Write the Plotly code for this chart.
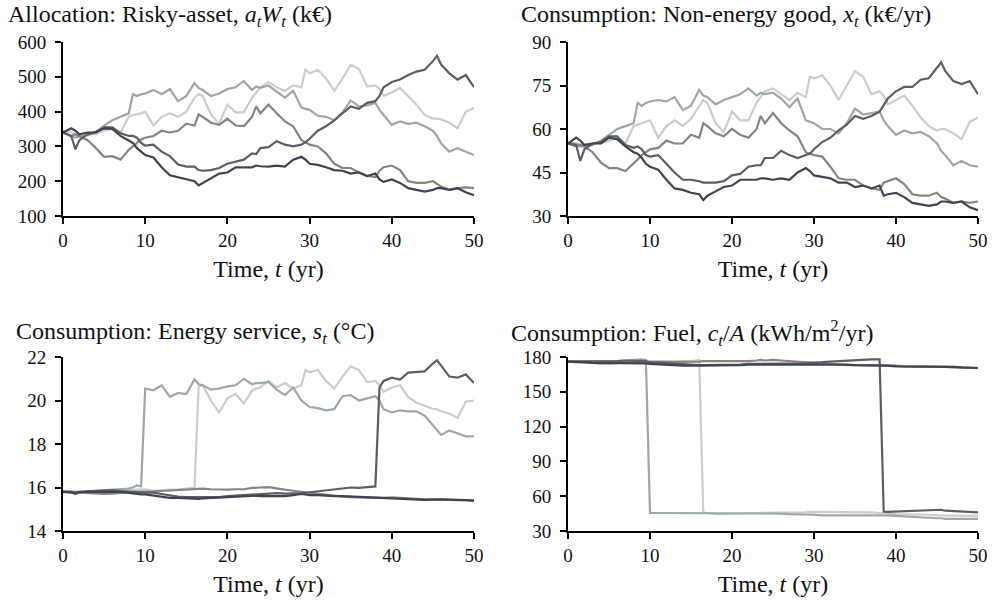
import plotly.graph_objects as go

# Time grid (years)
T = [0, 1, 1.5, 2, 3, 4, 5, 6, 7, 8,
     8.5, 9, 9.5, 10, 11, 12, 13, 14, 15, 16,
     16.5, 17, 18, 19, 20, 21, 22, 23, 23.5, 24,
     25, 26, 27, 28, 29, 29.5, 30, 31, 32, 33,
     34, 35, 36, 37, 38, 38.5, 39, 40, 41, 42,
     43, 44, 45, 45.5, 46, 47, 48, 49, 50]

# ---- Allocation: risky asset a_t W_t (k€) ----
W_navy = [340, 352, 345, 335, 340, 340, 352, 350, 330, 318,
          310, 295, 285, 275, 268, 240, 217, 212, 205, 200,
          188, 195, 210, 222, 225, 240, 240, 240, 245, 243,
          242, 245, 242, 262, 270, 262, 250, 247, 240, 232,
          230, 222, 225, 215, 222, 205, 198, 205, 195, 180,
          175, 170, 175, 180, 180, 175, 180, 168, 160]
W_dark = [340, 330, 292, 318, 335, 342, 355, 355, 338, 330,
          330, 325, 310, 302, 305, 285, 272, 248, 242, 242,
          232, 230, 232, 238, 250, 255, 262, 280, 278, 295,
          298, 315, 305, 300, 305, 312, 322, 345, 358, 375,
          395, 415, 408, 425, 430, 445, 470, 485, 492, 505,
          515, 520, 545, 560, 535, 510, 492, 505, 470]
W_brown = [340, 330, 335, 330, 318, 295, 270, 272, 262, 290,
           300, 312, 320, 325, 330, 345, 340, 345, 365, 360,
           392, 385, 368, 362, 380, 360, 358, 385, 415, 395,
           420, 395, 372, 358, 318, 312, 305, 300, 280, 250,
           238, 238, 225, 215, 212, 230, 240, 245, 232, 200,
           195, 195, 200, 192, 185, 175, 180, 182, 180]
W_blue = [340, 330, 325, 328, 332, 340, 360, 375, 385, 395,
          450, 445, 450, 452, 462, 450, 465, 430, 445, 482,
          468, 462, 445, 452, 465, 470, 488, 462, 472, 468,
          475, 458, 440, 460, 412, 408, 405, 388, 385, 375,
          398, 432, 415, 418, 425, 405, 390, 362, 372, 365,
          368, 358, 345, 330, 308, 285, 295, 285, 275]
W_light = [345, 340, 335, 330, 335, 335, 345, 350, 340, 385,
           390, 392, 395, 400, 360, 385, 395, 385, 400, 440,
           450, 445, 392, 365, 420, 398, 398, 440, 455, 470,
           485, 470, 460, 475, 470, 520, 510, 520, 495, 460,
           495, 535, 522, 472, 475, 465, 445, 455, 468, 445,
           420, 390, 380, 380, 378, 368, 352, 400, 410]

# ---- Consumption: non-energy good x_t (k€/yr) ----
X_navy = [55, 57, 56, 54.5, 55, 55, 57, 56.5, 54, 52,
          51.5, 50, 48, 47, 46, 42.5, 39.5, 39, 38, 37.5,
          35.5, 37, 38.5, 40, 40.5, 42.5, 42.5, 42.5, 43, 43,
          42.5, 43, 42.5, 45, 46.5, 45.5, 44, 43.5, 43, 41.5,
          41.5, 40, 40.5, 39.5, 40.5, 37, 37.5, 38, 36.5, 34.5,
          34, 33.5, 34, 35, 35, 34.5, 35, 33, 32]
X_dark = [55, 54.5, 49, 53, 55, 55.5, 57.5, 57.5, 54.5, 53.5,
          54, 53, 51, 50.5, 51, 48, 45, 42.5, 42.5, 42,
          41.5, 41.5, 41.5, 42, 44, 44.5, 47, 47.5, 47.5, 50,
          50, 52.5, 51, 50, 51, 51.5, 53, 55.5, 57, 59.5,
          61.5, 64.5, 63.5, 64.5, 66, 68.5, 70.5, 73, 74.5, 74.5,
          77, 77.5, 81, 83, 80, 76.5, 75.5, 76.5, 72]
X_brown = [55, 54, 54.5, 54, 52, 48.5, 46.5, 46.5, 45.5, 48,
           49.5, 51, 52, 53, 53.5, 56, 55, 55, 58, 57,
           62, 61, 58.5, 57.5, 60, 58, 57, 60, 64.5, 62,
           65.5, 62, 59.5, 57.5, 52, 51.5, 51, 50.5, 47, 43,
           42.5, 42.5, 40.5, 39.5, 39, 41.5, 42, 43, 41, 37.5,
           37, 37, 38, 36.5, 36, 34.5, 35, 34.5, 35]
X_blue = [55, 55, 54, 54, 54.5, 56, 58, 60, 61, 62,
          69, 68, 69, 69.5, 70, 69.5, 71, 66.5, 68, 73.5,
          71.5, 71, 68.5, 70, 71, 72, 74, 71.5, 72.5, 72,
          72.5, 70.5, 67.5, 70.5, 63, 62.5, 62, 60, 60, 58.5,
          62, 67, 65, 65.5, 66, 63, 61, 58, 59.5, 58.5,
          59, 57.5, 55, 52.5, 51, 47.5, 49, 47.5, 47]
X_light = [55.5, 55, 54.5, 54.5, 55, 55, 56, 57, 55, 61,
           61.5, 62, 62.5, 63, 57, 61, 63, 61, 63.5, 68,
           70, 69, 62, 59, 66, 63, 63, 69, 71, 73,
           74, 72, 70, 72.5, 71, 78, 77.5, 78.5, 75, 70,
           75, 80, 78, 72, 73, 71.5, 68.5, 70, 71.5, 68,
           64, 61, 59.5, 60, 60, 58.5, 56.5, 62.5, 64]

# ---- Consumption: energy service s_t (°C) ----
S_navy = [15.8, 15.75, 15.75, 15.8, 15.8, 15.8, 15.8, 15.78, 15.8, 15.75,
          15.72, 15.7, 15.68, 15.68, 15.62, 15.55, 15.52, 15.52, 15.5, 15.5,
          15.48, 15.5, 15.52, 15.55, 15.55, 15.58, 15.6, 15.6, 15.62, 15.6,
          15.6, 15.62, 15.6, 15.65, 15.7, 15.68, 15.65, 15.65, 15.62, 15.6,
          15.6, 15.58, 15.58, 15.55, 15.55, 15.52, 15.5, 15.5, 15.48, 15.45,
          15.44, 15.43, 15.44, 15.45, 15.45, 15.44, 15.44, 15.42, 15.4]
S_dark = [15.8, 15.8, 15.7, 15.78, 15.82, 15.84, 15.88, 15.88, 15.84, 15.82,
          15.82, 15.82, 15.78, 15.76, 15.76, 15.7, 15.64, 15.58, 15.56, 15.56,
          15.55, 15.55, 15.55, 15.56, 15.6, 15.62, 15.64, 15.66, 15.66, 15.68,
          15.7, 15.74, 15.72, 15.72, 15.74, 15.76, 15.78, 15.82, 15.86, 15.9,
          15.95, 16.0, 15.98, 16.02, 16.05, 20.6, 20.9, 21.05, 20.96, 21.28,
          21.3, 21.34, 21.7, 21.85, 21.6, 21.1, 21.05, 21.2, 20.8]
S_brown = [15.8, 15.78, 15.76, 15.75, 15.72, 15.7, 15.7, 15.72, 15.76, 15.8,
           15.8, 15.8, 15.8, 15.8, 15.82, 15.84, 15.86, 15.88, 15.9, 15.92,
           15.95, 15.95, 15.92, 15.9, 15.9, 15.92, 15.92, 15.98, 16.0, 16.0,
           16.02, 15.95, 15.9, 15.85, 15.8, 15.78, 15.75, 15.7, 15.65, 15.62,
           15.58, 15.56, 15.55, 15.52, 15.5, 15.5, 15.52, 15.55, 15.52, 15.5,
           15.46, 15.45, 15.45, 15.44, 15.44, 15.44, 15.42, 15.42, 15.4]
S_blue = [15.8, 15.78, 15.8, 15.8, 15.82, 15.84, 15.86, 15.88, 15.9, 15.95,
          16.0, 16.1, 16.05, 20.55, 20.47, 20.7, 20.17, 20.35, 20.3, 20.98,
          20.75, 20.7, 20.5, 20.55, 20.65, 20.7, 21.0, 20.75, 20.8, 20.8,
          20.85, 20.5, 20.25, 20.6, 20.0, 19.85, 19.7, 19.65, 19.55, 19.6,
          20.2, 20.25, 20.0, 20.1, 20.2, 20.0, 19.6, 19.45, 19.55, 19.5,
          19.5, 19.3, 18.85, 18.6, 18.42, 18.62, 18.5, 18.35, 18.35]
S_light = [15.85, 15.85, 15.82, 15.8, 15.78, 15.78, 15.78, 15.8, 15.82, 15.85,
           15.88, 15.9, 15.92, 15.92, 15.85, 15.88, 15.9, 15.9, 15.95, 16.0,
           20.65, 20.7, 20.0, 19.45, 20.1, 20.3, 19.86, 20.45, 20.55, 20.6,
           20.9, 20.6, 20.8, 20.55, 20.7, 21.4, 21.3, 21.4, 20.9, 20.55,
           21.1, 21.57, 21.4, 20.85, 20.9, 20.7, 20.4, 20.6, 20.7, 20.15,
           19.9, 19.75, 19.62, 19.6, 19.5, 19.4, 19.2, 19.95, 20.0]

# ---- Consumption: fuel c_t/A (kWh/m²/yr) ----
C_navy = [176, 176, 176, 175.5, 175, 175, 175, 175, 175, 175,
          175, 175, 174.5, 174, 173.5, 173, 172.5, 172.5, 172.5, 172.5,
          172.5, 172.5, 173, 173, 173, 173, 173.5, 173.5, 173.5, 173.5,
          173.5, 173.5, 173.5, 173.5, 174, 174, 174, 174, 173.5, 173.5,
          173.5, 173, 173, 173, 172.5, 172.5, 172.5, 172, 172, 172,
          171.5, 171.5, 171.5, 171.5, 171.5, 171.5, 171, 171, 170.5]
C_dark = [176, 176, 176, 176, 176.5, 176.5, 176.5, 176.5, 177, 177,
          177, 177, 176.5, 175.5, 175, 174.5, 174, 173.5, 173, 173,
          173, 173, 173, 173.5, 173.5, 173.5, 174, 174, 174, 174,
          174, 174, 174, 174.5, 174.5, 175, 175, 175.5, 176, 176.5,
          177, 177.5, 178, 178, 178, 46.7, 46.5, 46.7, 46.8, 47,
          47.5, 47.5, 48, 48.3, 47.5, 47, 46.8, 46.5, 46]
C_brown = [176, 175.5, 175.5, 175, 174.5, 174.5, 174.5, 175, 175.5, 175.5,
           175.5, 175.5, 175.5, 175.5, 175.5, 175.5, 175.5, 175.5, 176, 176,
           176.5, 176.5, 176, 176, 176.5, 176.5, 176.5, 177, 177.5, 177,
           177.5, 177, 176.5, 176, 175.5, 175, 175, 174.5, 174, 173.5,
           173, 173, 173, 172.5, 172.5, 172.5, 172.5, 172.5, 172, 172,
           172, 171.5, 171.5, 171.5, 171.5, 171, 171, 171, 170.5]
C_blue = [176, 175.5, 176, 176, 176, 176, 176, 176.5, 177, 177.5,
          177.5, 178, 177.5, 45.5, 45.5, 45.5, 45, 45, 45, 45.5,
          45.5, 45.5, 45, 45, 45.5, 45.5, 45.5, 45.5, 45.5, 45,
          45, 45, 44.5, 44.5, 44.5, 44, 44, 43.5, 43.5, 43.5,
          43.5, 44, 44, 44, 44, 43.5, 43.5, 43, 42.5, 42.5,
          42, 41.5, 41, 41, 40.5, 40.5, 40.5, 40.5, 40.5]
C_light = [176.5, 176.5, 176.5, 176, 176, 176, 176, 176.5, 176.5, 177,
           177.5, 177.5, 177, 176.5, 176.5, 176, 176, 176.5, 176.5, 177.5,
           46, 45.5, 44.5, 44.5, 45, 45, 45.5, 45.5, 45.5, 45.5,
           45.5, 45.5, 46, 46, 46, 46.5, 46.5, 46.5, 46, 46,
           46, 46.5, 46.5, 46, 45.5, 45.5, 45, 44.5, 44.5, 44.5,
           44, 44, 43.5, 43.5, 43.5, 43, 43, 43, 43]

COLORS = ["#cdcdcd", "#9ea7ab", "#8b847e", "#5b5e66", "#404450"]

panels = [
    dict(series=[W_light, W_blue, W_brown, W_dark, W_navy], xa="x", ya="y",
         dom_x=[63, 474], dom_y=[42, 216], rng=[100, 600], dt=100,
         title="Allocation: Risky-asset, <i>a<sub>t</sub>W<sub>t</sub></i> (k€)", tx=6, ty=16),
    dict(series=[X_light, X_blue, X_brown, X_dark, X_navy], xa="x2", ya="y2",
         dom_x=[568, 978], dom_y=[42, 216], rng=[30, 90], dt=15,
         title="Consumption: Non-energy good, <i>x<sub>t</sub></i> (k€/yr)", tx=519, ty=16),
    dict(series=[S_light, S_blue, S_brown, S_dark, S_navy], xa="x3", ya="y3",
         dom_x=[63, 474], dom_y=[357, 531], rng=[14, 22], dt=2,
         title="Consumption: Energy service, <i>s<sub>t</sub></i> (°C)", tx=14, ty=333),
    dict(series=[C_light, C_blue, C_brown, C_dark, C_navy], xa="x4", ya="y4",
         dom_x=[568, 978], dom_y=[357, 531], rng=[30, 180], dt=30,
         title="Consumption: Fuel, <i>c<sub>t</sub></i>/<i>A</i> (kWh/m<sup>2</sup>/yr)", tx=509, ty=333),
]

W_PX, H_PX = 997, 602
FONT = "Liberation Serif"
INK = "#111111"

fig = go.Figure()
layout = dict(
    width=W_PX, height=H_PX,
    margin=dict(l=0, r=0, t=0, b=0, autoexpand=False),
    paper_bgcolor="white", plot_bgcolor="white",
    showlegend=False,
    font=dict(family=FONT, size=19, color=INK),
    annotations=[],
)

for i, p in enumerate(panels):
    for s, c in zip(p["series"], COLORS):
        fig.add_trace(go.Scatter(x=T, y=s, mode="lines", xaxis=p["xa"], yaxis=p["ya"],
                                 line=dict(color=c, width=2.2), hoverinfo="skip"))
    sfx = "" if i == 0 else str(i + 1)
    layout["xaxis" + sfx] = dict(
        domain=[p["dom_x"][0] / W_PX, p["dom_x"][1] / W_PX],
        anchor="y" + sfx, range=[0, 50], tickvals=[0, 10, 20, 30, 40, 50],
        automargin=False,
        showgrid=False, zeroline=False, showline=True, linecolor="black", linewidth=2,
        ticks="outside", ticklen=6, tickwidth=2, tickcolor="black",
        tickfont=dict(family=FONT, size=19, color=INK),
        title=dict(text="Time, <i>t</i> (yr)", font=dict(family=FONT, size=24, color=INK),
                   standoff=10),
    )
    lo, hi = p["rng"]
    layout["yaxis" + sfx] = dict(
        domain=[1 - p["dom_y"][1] / H_PX, 1 - p["dom_y"][0] / H_PX],
        anchor="x" + sfx, range=[lo, hi], dtick=p["dt"], tick0=lo,
        automargin=False,
        showgrid=False, zeroline=False, showline=True, linecolor="black", linewidth=2,
        ticks="outside", ticklen=6, tickwidth=2, tickcolor="black",
        ticklabelstandoff=5,
        tickfont=dict(family=FONT, size=19, color=INK),
    )
    layout["annotations"].append(dict(
        text=p["title"], x=p["tx"] / W_PX, y=1 - p["ty"] / H_PX, xref="paper", yref="paper",
        xanchor="left", yanchor="middle", showarrow=False,
        font=dict(family=FONT, size=24, color=INK),
    ))

fig.update_layout(**layout)
fig.write_html("out.html", config={"displayModeBar": False},
               post_script="document.body.style.margin='0';document.body.style.overflow='hidden';")
